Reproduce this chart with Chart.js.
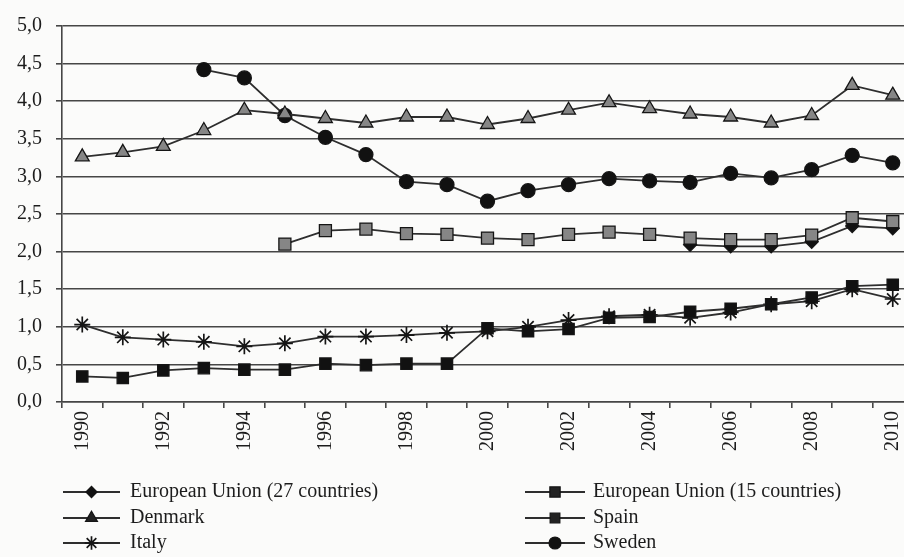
<!DOCTYPE html>
<html>
<head>
<meta charset="utf-8">
<script src="https://cdn.jsdelivr.net/npm/chart.js@4.4.0/dist/chart.umd.min.js"></script>
<style>
html, body { margin: 0; padding: 0; background: #fbfbfa; overflow: hidden; }
#wrap { position: relative; width: 923px; height: 557px; }
</style>
</head>
<body>
<div id="wrap"><canvas id="myChart"></canvas></div>
<script>
// data
const years = ['1990','1991','1992','1993','1994','1995','1996','1997','1998','1999',
               '2000','2001','2002','2003','2004','2005','2006','2007','2008','2009','2010'];
const eu27    = [null,null,null,null,null,null,null,null,null,null,null,null,null,null,null,
                 2.09,2.07,2.07,2.13,2.34,2.31];
const eu15    = [null,null,null,null,null,
                 2.10,2.28,2.30,2.24,2.23,2.18,2.16,2.23,2.26,2.23,2.18,2.16,2.16,2.22,2.45,2.40];
const denmark = [3.26,3.32,3.40,3.61,3.88,3.83,3.77,3.71,3.79,3.79,3.69,3.77,3.88,3.98,3.90,
                 3.83,3.79,3.71,3.81,4.21,4.08];
const spain   = [0.34,0.32,0.42,0.45,0.43,0.43,0.51,0.49,0.51,0.51,0.98,0.94,0.97,1.12,1.13,
                 1.20,1.24,1.30,1.39,1.54,1.56];
const italy   = [1.03,0.86,0.83,0.80,0.74,0.78,0.87,0.87,0.89,0.92,0.94,1.00,1.09,1.14,1.16,
                 1.12,1.19,1.30,1.34,1.50,1.37];
const sweden  = [null,null,null,4.42,4.31,3.81,3.52,3.29,2.93,2.89,2.67,2.81,2.89,2.97,2.94,
                 2.92,3.04,2.98,3.09,3.28,3.18];

const LINE = '#2e2e2e';
const GRAY = '#868686';
const AXIS = '#464646';
const serif = 'Liberation Serif';

function series(label, data, style, radius, fill, order) {
    return {
        label: label,
        data: data,
        borderColor: LINE,
        borderWidth: 1.8,
        pointStyle: style,
        pointRadius: radius,
        pointHoverRadius: radius,
        pointBackgroundColor: fill,
        pointBorderColor: '#151515',
        pointBorderWidth: style === 'star' ? 1.7 : 1.3,
        fill: false,
        tension: 0,
        order: order
    };
}

const datasets = [
    series('European Union (27 countries)', eu27, 'rectRot', 6.5, '#111', 2),
    series('European Union (15 countries)', eu15, 'rect', 8.5, GRAY, 1),
    series('Denmark', denmark, 'triangle', 8, GRAY, 3),
    series('Spain', spain, 'rect', 8, '#111', 4),
    series('Italy', italy, 'star', 8, '#111', 5),
    series('Sweden', sweden, 'circle', 7, '#111', 6)
];

// two-column legend under the axis, like the printed figure
const legendSlots = [
    {x0: 63, x1: 120, tx: 130, y: 492},
    {x0: 525, x1: 585, tx: 593, y: 492},
    {x0: 63, x1: 120, tx: 130, y: 518},
    {x0: 525, x1: 585, tx: 593, y: 518},
    {x0: 63, x1: 120, tx: 130, y: 543},
    {x0: 525, x1: 585, tx: 593, y: 543}
];

const pairedLegend = {
    id: 'pairedLegend',
    afterDraw(chart) {
        const ctx = chart.ctx;
        ctx.save();
        chart.data.datasets.forEach((ds, i) => {
            const s = legendSlots[i];
            ctx.strokeStyle = LINE;
            ctx.lineWidth = 2;
            ctx.beginPath();
            ctx.moveTo(s.x0, s.y);
            ctx.lineTo(s.x1, s.y);
            ctx.stroke();
            ctx.fillStyle = ds.pointStyle === 'triangle' || ds.pointStyle === 'rect' ? '#222' : ds.pointBackgroundColor;
            ctx.strokeStyle = ds.pointBorderColor;
            ctx.lineWidth = ds.pointBorderWidth;
            Chart.helpers.drawPoint(ctx, {
                pointStyle: ds.pointStyle,
                radius: ds.pointRadius * 0.85,
                rotation: 0,
                borderWidth: ds.pointBorderWidth
            }, (s.x0 + s.x1) / 2, s.y);
            ctx.fillStyle = '#1c1c1c';
            ctx.font = '20px "' + serif + '"';
            ctx.textBaseline = 'middle';
            ctx.textAlign = 'left';
            ctx.fillText(ds.label, s.tx, s.y);
        });
        ctx.restore();
    }
};

const ctx = document.getElementById('myChart').getContext('2d');
const mychart = new Chart(ctx, {
    type: 'line',
    data: { labels: years, datasets: datasets },
    options: {
        responsive: true,
        maintainAspectRatio: false,
        animation: false,
        layout: { padding: { top: 21, right: 10, left: 0, bottom: 0 } },
        plugins: { legend: { display: false }, tooltip: { enabled: false } },
        scales: {
            x: {
                offset: true,
                grid: { offset: true, drawOnChartArea: false, drawTicks: true, tickLength: 6, color: AXIS, lineWidth: 1.6 },
                border: { color: AXIS, width: 1.6 },
                ticks: {
                    autoSkip: false,
                    maxRotation: 90,
                    minRotation: 90,
                    padding: 3,
                    color: '#1c1c1c',
                    font: { family: serif, size: 20 },
                    callback: function (v, i) { return i % 2 === 0 ? this.getLabelForValue(v) : ''; }
                },
                afterFit: s => { s.height = 155; }
            },
            y: {
                min: 0,
                max: 5,
                ticks: {
                    stepSize: 0.5,
                    padding: 14,
                    color: '#1c1c1c',
                    font: { family: serif, size: 20 },
                    callback: v => v.toFixed(1).replace('.', ',')
                },
                grid: { color: AXIS, lineWidth: 1.6, tickLength: 6 },
                border: { color: AXIS, width: 1.6 },
                afterFit: s => { s.width = 62; }
            }
        }
    },
    plugins: [pairedLegend]
});
</script>
</body>
</html>
